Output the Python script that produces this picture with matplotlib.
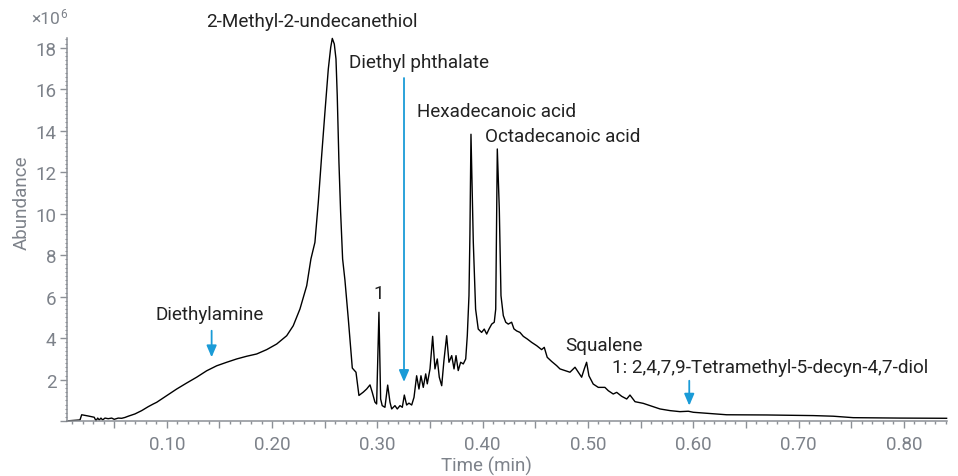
import matplotlib
matplotlib.use("Agg")
import matplotlib.pyplot as plt
from matplotlib.ticker import MultipleLocator, FuncFormatter

plt.rcParams['font.family'] = ['Roboto', 'DejaVu Sans']

# Total ion chromatogram, read as (time, abundance x1e6)
time_min = [
    0.0052, 0.0065, 0.0176, 0.0192, 0.0255, 0.0311, 0.0328, 0.0344, 0.0359, 0.0375,
    0.0391, 0.0413, 0.0444, 0.0477, 0.0501, 0.0539, 0.0572, 0.0603, 0.0634, 0.0698,
    0.0762, 0.0824, 0.0872, 0.0904, 0.0999, 0.1094, 0.1189, 0.1284, 0.1379, 0.1474,
    0.1569, 0.1664, 0.1759, 0.1854, 0.1949, 0.2044, 0.2139, 0.2201, 0.2265, 0.2329,
    0.2369, 0.2407, 0.2439, 0.2471, 0.2502, 0.2534, 0.2557, 0.2572, 0.2591, 0.2607,
    0.2619, 0.2635, 0.2651, 0.2670, 0.2692, 0.2724, 0.2749, 0.2762, 0.2797, 0.2825,
    0.2866, 0.2898, 0.2930, 0.2951, 0.2977, 0.2993, 0.3015, 0.3031, 0.3046, 0.3072,
    0.3098, 0.3120, 0.3136, 0.3167, 0.3189, 0.3215, 0.3237, 0.3256, 0.3278, 0.3300,
    0.3326, 0.3348, 0.3373, 0.3395, 0.3414, 0.3436, 0.3459, 0.3474, 0.3500, 0.3525,
    0.3547, 0.3569, 0.3588, 0.3611, 0.3632, 0.3658, 0.3680, 0.3706, 0.3728, 0.3747,
    0.3768, 0.3791, 0.3816, 0.3839, 0.3854, 0.3870, 0.3879, 0.3889, 0.3911, 0.3933,
    0.3958, 0.3990, 0.4015, 0.4038, 0.4060, 0.4086, 0.4110, 0.4124, 0.4139, 0.4158,
    0.4174, 0.4196, 0.4219, 0.4243, 0.4275, 0.4297, 0.4323, 0.4354, 0.4386, 0.4424,
    0.4465, 0.4513, 0.4560, 0.4585, 0.4613, 0.4655, 0.4702, 0.4734, 0.4782, 0.4829,
    0.4877, 0.4898, 0.4940, 0.4965, 0.4987, 0.5009, 0.5050, 0.5098, 0.5161, 0.5193,
    0.5240, 0.5273, 0.5320, 0.5368, 0.5399, 0.5447, 0.5525, 0.5589, 0.5684, 0.5779,
    0.5874, 0.5953, 0.6000, 0.6127, 0.6317, 0.6697, 0.7140, 0.7330, 0.7519, 0.7963,
    0.8406,
]
abundance = [
    0.00, 0.02, 0.06, 0.31, 0.25, 0.19, 0.02, 0.15, 0.06, 0.15,
    0.06, 0.15, 0.12, 0.15, 0.09, 0.15, 0.14, 0.18, 0.24, 0.35,
    0.51, 0.70, 0.83, 0.91, 1.23, 1.55, 1.84, 2.12, 2.43, 2.67,
    2.84, 3.00, 3.13, 3.24, 3.45, 3.72, 4.12, 4.60, 5.41, 6.53,
    7.82, 8.62, 10.55, 12.80, 14.89, 16.97, 18.02, 18.45, 18.18, 17.46,
    15.69, 12.49, 10.08, 7.82, 6.80, 4.93, 3.33, 2.56, 2.36, 1.24,
    1.40, 1.55, 1.75, 1.40, 0.92, 0.83, 5.25, 1.07, 0.75, 0.67,
    1.74, 0.91, 0.59, 0.75, 0.59, 0.75, 0.67, 1.26, 0.78, 0.87,
    0.78, 1.15, 2.19, 1.55, 2.19, 1.63, 2.28, 1.80, 2.52, 4.09,
    2.52, 3.00, 2.12, 1.71, 2.91, 4.12, 2.84, 3.16, 2.52, 3.16,
    2.44, 2.84, 2.76, 3.00, 4.12, 6.05, 9.00, 13.83, 8.64, 5.40,
    4.44, 4.28, 4.44, 4.20, 4.44, 4.68, 4.77, 5.40, 13.12, 10.23,
    6.05, 5.09, 4.77, 4.68, 4.77, 4.45, 4.35, 4.28, 4.09, 3.96,
    3.80, 3.64, 3.45, 3.56, 3.08, 2.88, 2.68, 2.52, 2.44, 2.36,
    2.60, 2.44, 2.12, 2.52, 2.84, 2.19, 1.79, 1.63, 1.63, 1.47,
    1.31, 1.39, 1.20, 1.07, 1.26, 0.94, 0.86, 0.75, 0.59, 0.51,
    0.46, 0.48, 0.43, 0.38, 0.31, 0.30, 0.27, 0.24, 0.17, 0.15,
    0.14,
]

# compound labels: (text, x, y)
peak_labels = [
    ("2-Methyl-2-undecanethiol", 0.2379, 19.30),
    ("Diethyl phthalate", 0.3392, 17.30),
    ("Hexadecanoic acid", 0.4128, 14.96),
    ("Octadecanoic acid", 0.4761, 13.76),
    ("1", 0.3009, 6.16),
    ("Diethylamine", 0.1407, 5.17),
    ("Squalene", 0.5150, 3.69),
    ("1: 2,4,7,9-Tetramethyl-5-decyn-4,7-diol", 0.6733, 2.60),
]
# arrows: (x, y_start, y_tip)
arrows = [
    (0.1426, 4.36, 3.08),
    (0.3253, 16.54, 1.89),
    (0.5962, 1.95, 0.75),
]

GREY = '#7d828a'
SPINE = '#8c9096'
BLUE = '#1a9bd7'
INK = '#222222'
FS = 13.6

fig = plt.figure(figsize=(9.58, 4.77), dpi=100)
ax = fig.add_axes([0.0699, 0.1149, 0.9181, 0.8025])

ax.plot(time_min, abundance, color='black', lw=1.0, clip_on=False)
ax.set_xlim(0.00522, 0.8405)
ax.set_ylim(0, 18.45)

for side in ('top', 'right'):
    ax.spines[side].set_visible(False)
for side in ('left', 'bottom'):
    ax.spines[side].set_color(SPINE)
    ax.spines[side].set_linewidth(1.1)

ax.xaxis.set_major_locator(MultipleLocator(0.05))
ax.xaxis.set_minor_locator(MultipleLocator(0.01))
ax.xaxis.set_major_formatter(FuncFormatter(
    lambda v, p: f"{v:.2f}" if abs(round(v * 10) - v * 10) < 1e-6 else ""))
ax.yaxis.set_major_locator(MultipleLocator(2))
ax.yaxis.set_minor_locator(MultipleLocator(0.2))
ax.yaxis.set_major_formatter(FuncFormatter(lambda v, p: f"{v:.0f}" if v > 0 else ""))

ax.tick_params(axis='both', which='major', colors=SPINE, labelcolor=GREY,
               labelsize=13.5, length=5, width=1.0)
ax.tick_params(axis='x', which='minor', colors=SPINE, length=2.5, width=1.0)
ax.tick_params(axis='y', which='minor', colors=SPINE, length=1.5, width=0.8)
ax.tick_params(axis='x', which='major', pad=5)
ax.tick_params(axis='y', which='major', pad=2.5)

for text, x, y in peak_labels:
    ax.text(x, y, text, ha='center', va='center', fontsize=FS, color=INK,
            clip_on=False)

for x, y0, y1 in arrows:
    ax.annotate('', xy=(x, y1), xytext=(x, y0),
                arrowprops=dict(arrowstyle='-|>,head_length=0.7,head_width=0.3',
                                color=BLUE, lw=1.3, shrinkA=0, shrinkB=0,
                                mutation_scale=10))

# axis titles and the exponent marker
fig.text(22 / 958, 1 - 203 / 477, "Abundance", rotation=90, ha='center',
         va='center', fontsize=13.5, color=GREY)
fig.text(486 / 958, 1 - 466.7 / 477, "Time (min)", ha='center', va='center',
         fontsize=13.5, color=GREY)
fig.text(46 / 958, 1 - 20 / 477, "×10", ha='center', va='center',
         fontsize=12.5, color=GREY)
fig.text(63.5 / 958, 1 - 14.5 / 477, "6", ha='center', va='center',
         fontsize=8.5, color=GREY)

fig.savefig("out.png", dpi=100)
